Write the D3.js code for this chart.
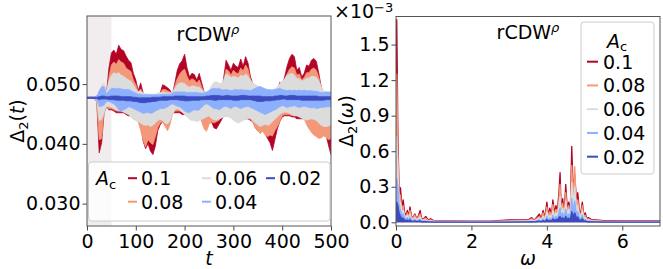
<!DOCTYPE html>
<html>
<head>
<meta charset="utf-8">
<script src="https://cdn.jsdelivr.net/npm/d3@7"></script>
<style>
  body { margin: 0; background: #fff; }
  svg { font-family: "DejaVu Sans", sans-serif; }
</style>
</head>
<body>
<svg id="chart" width="663" height="269"></svg>
<script>

// ---- data: left panel, Delta_2(t), envelopes (upper / lower) on t = 0,5,...,500 ----
var tGrid = d3.range(0, 505, 5);

var redHi = [0.0478,0.0478,0.0478,0.0478,0.0480,0.0483,0.0489,0.0492,0.0485,0.0527,
  0.0552,0.0557,0.0550,0.0565,0.0558,0.0556,0.0547,0.0540,0.0536,0.0518,
  0.0507,0.0489,0.0502,0.0485,0.0481,0.0480,0.0481,0.0481,0.0480,0.0483,
  0.0485,0.0499,0.0497,0.0494,0.0490,0.0483,0.0502,0.0523,0.0534,0.0539,
  0.0550,0.0527,0.0512,0.0518,0.0516,0.0507,0.0518,0.0502,0.0487,0.0482,
  0.0481,0.0485,0.0483,0.0482,0.0483,0.0487,0.0510,0.0540,0.0532,0.0523,
  0.0535,0.0530,0.0528,0.0542,0.0530,0.0546,0.0535,0.0512,0.0500,0.0497,
  0.0494,0.0490,0.0485,0.0483,0.0482,0.0482,0.0482,0.0483,0.0485,0.0503,
  0.0500,0.0512,0.0530,0.0543,0.0550,0.0546,0.0523,0.0528,0.0512,0.0518,
  0.0532,0.0530,0.0540,0.0543,0.0538,0.0518,0.0495,0.0485,0.0482,0.0481,
  0.0481];
var redLo = [0.0476,0.0476,0.0476,0.0476,0.0471,0.0385,0.0402,0.0452,0.0462,0.0457,
  0.0457,0.0455,0.0452,0.0452,0.0452,0.0452,0.0449,0.0447,0.0447,0.0442,
  0.0442,0.0437,0.0432,0.0405,0.0392,0.0400,0.0388,0.0382,0.0396,0.0422,
  0.0432,0.0437,0.0435,0.0432,0.0442,0.0452,0.0452,0.0452,0.0452,0.0449,
  0.0449,0.0447,0.0447,0.0445,0.0445,0.0445,0.0445,0.0442,0.0437,0.0432,
  0.0442,0.0437,0.0427,0.0425,0.0432,0.0439,0.0447,0.0447,0.0447,0.0445,
  0.0445,0.0445,0.0442,0.0442,0.0442,0.0442,0.0442,0.0439,0.0437,0.0427,
  0.0422,0.0422,0.0427,0.0417,0.0409,0.0402,0.0389,0.0407,0.0425,0.0437,
  0.0445,0.0447,0.0447,0.0447,0.0445,0.0445,0.0442,0.0442,0.0442,0.0442,
  0.0439,0.0437,0.0432,0.0427,0.0427,0.0422,0.0417,0.0422,0.0415,0.0397,
  0.0382];

var salmonHi = [0.0478,0.0478,0.0478,0.0478,0.0479,0.0482,0.0489,0.0491,0.0483,0.0512,
  0.0532,0.0537,0.0533,0.0541,0.0537,0.0535,0.0527,0.0524,0.0521,0.0507,
  0.0499,0.0487,0.0492,0.0483,0.0481,0.0480,0.0480,0.0480,0.0480,0.0482,
  0.0485,0.0491,0.0491,0.0489,0.0487,0.0483,0.0497,0.0509,0.0517,0.0522,
  0.0525,0.0513,0.0505,0.0509,0.0507,0.0502,0.0507,0.0495,0.0487,0.0483,
  0.0482,0.0487,0.0491,0.0492,0.0491,0.0491,0.0505,0.0525,0.0522,0.0515,
  0.0523,0.0519,0.0517,0.0527,0.0522,0.0532,0.0525,0.0507,0.0497,0.0493,
  0.0490,0.0487,0.0485,0.0483,0.0482,0.0482,0.0482,0.0483,0.0485,0.0497,
  0.0499,0.0507,0.0517,0.0525,0.0529,0.0527,0.0515,0.0517,0.0507,0.0511,
  0.0519,0.0519,0.0525,0.0527,0.0523,0.0511,0.0495,0.0485,0.0482,0.0481,
  0.0481];
var salmonLo = [0.0476,0.0476,0.0476,0.0476,0.0472,0.0407,0.0409,0.0457,0.0462,0.0459,
  0.0459,0.0457,0.0455,0.0455,0.0455,0.0455,0.0452,0.0450,0.0449,0.0447,
  0.0445,0.0437,0.0422,0.0407,0.0395,0.0407,0.0402,0.0399,0.0412,0.0427,
  0.0435,0.0437,0.0429,0.0422,0.0432,0.0449,0.0455,0.0455,0.0455,0.0453,
  0.0452,0.0451,0.0449,0.0449,0.0447,0.0447,0.0445,0.0437,0.0425,0.0421,
  0.0432,0.0437,0.0435,0.0437,0.0439,0.0447,0.0449,0.0449,0.0447,0.0447,
  0.0447,0.0445,0.0445,0.0445,0.0445,0.0443,0.0443,0.0441,0.0435,0.0427,
  0.0422,0.0417,0.0421,0.0415,0.0412,0.0415,0.0413,0.0422,0.0429,0.0437,
  0.0447,0.0449,0.0449,0.0449,0.0447,0.0447,0.0447,0.0445,0.0445,0.0442,
  0.0432,0.0425,0.0419,0.0415,0.0412,0.0409,0.0410,0.0413,0.0411,0.0407,
  0.0409];

var grayHi = [0.0478,0.0478,0.0478,0.0478,0.0479,0.0487,0.0499,0.0502,0.0487,0.0505,
  0.0515,0.0519,0.0517,0.0519,0.0515,0.0513,0.0510,0.0507,0.0505,0.0499,
  0.0492,0.0487,0.0489,0.0485,0.0484,0.0483,0.0483,0.0483,0.0483,0.0485,
  0.0485,0.0487,0.0486,0.0485,0.0485,0.0487,0.0493,0.0499,0.0502,0.0502,
  0.0501,0.0497,0.0495,0.0497,0.0497,0.0495,0.0495,0.0491,0.0487,0.0485,
  0.0489,0.0497,0.0503,0.0504,0.0502,0.0501,0.0507,0.0517,0.0515,0.0511,
  0.0513,0.0512,0.0510,0.0515,0.0513,0.0517,0.0513,0.0507,0.0502,0.0499,
  0.0497,0.0495,0.0493,0.0492,0.0491,0.0491,0.0491,0.0492,0.0495,0.0501,
  0.0505,0.0509,0.0515,0.0517,0.0518,0.0515,0.0509,0.0509,0.0505,0.0507,
  0.0510,0.0510,0.0513,0.0513,0.0511,0.0505,0.0495,0.0489,0.0487,0.0485,
  0.0485];
var grayLo = [0.0476,0.0476,0.0476,0.0476,0.0473,0.0439,0.0441,0.0452,0.0463,0.0463,
  0.0461,0.0459,0.0457,0.0455,0.0455,0.0453,0.0451,0.0449,0.0445,0.0441,
  0.0439,0.0437,0.0435,0.0432,0.0431,0.0432,0.0429,0.0431,0.0435,0.0439,
  0.0441,0.0439,0.0435,0.0433,0.0439,0.0449,0.0457,0.0459,0.0457,0.0453,
  0.0449,0.0445,0.0441,0.0439,0.0439,0.0437,0.0439,0.0441,0.0443,0.0445,
  0.0447,0.0443,0.0440,0.0440,0.0441,0.0443,0.0445,0.0447,0.0445,0.0443,
  0.0439,0.0437,0.0435,0.0437,0.0439,0.0441,0.0443,0.0443,0.0439,0.0435,
  0.0432,0.0429,0.0431,0.0433,0.0431,0.0433,0.0437,0.0441,0.0445,0.0449,
  0.0452,0.0453,0.0453,0.0451,0.0449,0.0447,0.0447,0.0445,0.0443,0.0441,
  0.0440,0.0441,0.0442,0.0441,0.0439,0.0435,0.0431,0.0429,0.0429,0.0430,
  0.0432];

var lblueHi = [0.0478,0.0478,0.0478,0.0478,0.0479,0.0489,0.0495,0.0496,0.0483,0.0489,
  0.0493,0.0493,0.0492,0.0493,0.0492,0.0491,0.0491,0.0491,0.0489,0.0487,
  0.0485,0.0483,0.0483,0.0482,0.0482,0.0482,0.0482,0.0482,0.0482,0.0482,
  0.0482,0.0483,0.0483,0.0483,0.0483,0.0485,0.0487,0.0487,0.0487,0.0487,
  0.0487,0.0486,0.0486,0.0486,0.0486,0.0486,0.0485,0.0485,0.0485,0.0487,
  0.0489,0.0492,0.0493,0.0492,0.0493,0.0491,0.0490,0.0491,0.0490,0.0489,
  0.0490,0.0491,0.0490,0.0491,0.0490,0.0490,0.0490,0.0489,0.0491,0.0493,
  0.0495,0.0496,0.0494,0.0492,0.0491,0.0490,0.0490,0.0491,0.0492,0.0493,
  0.0491,0.0490,0.0489,0.0490,0.0489,0.0490,0.0489,0.0490,0.0489,0.0490,
  0.0489,0.0489,0.0489,0.0488,0.0488,0.0487,0.0486,0.0486,0.0487,0.0487,
  0.0487];
var lblueLo = [0.0476,0.0476,0.0476,0.0476,0.0474,0.0462,0.0463,0.0465,0.0471,0.0471,
  0.0469,0.0467,0.0463,0.0457,0.0455,0.0457,0.0459,0.0462,0.0461,0.0459,
  0.0457,0.0455,0.0453,0.0451,0.0452,0.0453,0.0451,0.0452,0.0455,0.0457,
  0.0459,0.0459,0.0460,0.0462,0.0465,0.0467,0.0465,0.0463,0.0462,0.0459,
  0.0455,0.0453,0.0452,0.0455,0.0457,0.0456,0.0457,0.0461,0.0465,0.0467,
  0.0465,0.0462,0.0459,0.0459,0.0457,0.0459,0.0462,0.0463,0.0461,0.0459,
  0.0462,0.0463,0.0461,0.0459,0.0461,0.0462,0.0463,0.0461,0.0459,0.0457,
  0.0455,0.0453,0.0451,0.0449,0.0451,0.0453,0.0455,0.0457,0.0459,0.0462,
  0.0464,0.0463,0.0461,0.0462,0.0463,0.0464,0.0462,0.0461,0.0462,0.0463,
  0.0462,0.0461,0.0460,0.0461,0.0459,0.0460,0.0461,0.0461,0.0462,0.0462,
  0.0463];

var dblueHi = [0.0478,0.0478,0.0478,0.0478,0.0478,0.0479,0.0480,0.0480,0.0479,0.0479,
  0.0480,0.0480,0.0480,0.0480,0.0479,0.0479,0.0479,0.0479,0.0479,0.0478,
  0.0478,0.0477,0.0477,0.0477,0.0477,0.0477,0.0477,0.0478,0.0478,0.0478,
  0.0478,0.0479,0.0479,0.0479,0.0479,0.0479,0.0480,0.0480,0.0480,0.0480,
  0.0480,0.0479,0.0479,0.0479,0.0479,0.0479,0.0479,0.0479,0.0479,0.0480,
  0.0480,0.0481,0.0481,0.0481,0.0481,0.0480,0.0480,0.0481,0.0481,0.0480,
  0.0480,0.0480,0.0480,0.0481,0.0481,0.0481,0.0480,0.0480,0.0480,0.0480,
  0.0480,0.0480,0.0479,0.0479,0.0479,0.0479,0.0479,0.0480,0.0480,0.0481,
  0.0481,0.0480,0.0480,0.0481,0.0481,0.0481,0.0480,0.0480,0.0480,0.0480,
  0.0480,0.0480,0.0480,0.0480,0.0480,0.0479,0.0479,0.0479,0.0479,0.0479,
  0.0479];
var dblueLo = [0.0476,0.0476,0.0476,0.0476,0.0476,0.0474,0.0475,0.0475,0.0475,0.0474,
  0.0474,0.0474,0.0473,0.0473,0.0473,0.0473,0.0472,0.0472,0.0472,0.0471,
  0.0471,0.0470,0.0469,0.0469,0.0469,0.0470,0.0470,0.0471,0.0471,0.0472,
  0.0473,0.0473,0.0473,0.0473,0.0474,0.0474,0.0474,0.0474,0.0473,0.0473,
  0.0472,0.0472,0.0472,0.0473,0.0473,0.0473,0.0473,0.0474,0.0474,0.0474,
  0.0474,0.0474,0.0473,0.0473,0.0474,0.0474,0.0474,0.0474,0.0474,0.0474,
  0.0473,0.0473,0.0473,0.0474,0.0474,0.0474,0.0474,0.0474,0.0473,0.0472,
  0.0471,0.0471,0.0471,0.0472,0.0472,0.0472,0.0473,0.0473,0.0474,0.0474,
  0.0475,0.0475,0.0474,0.0474,0.0474,0.0474,0.0474,0.0474,0.0473,0.0473,
  0.0473,0.0473,0.0473,0.0473,0.0473,0.0473,0.0473,0.0473,0.0474,0.0474,
  0.0474];

// ---- data: right panel, Delta_2(omega) in units of 1e-3 ----
var omega = [0,0.02,0.05,0.08,0.12,0.16,0.19,0.23,0.27,0.30,
  0.34,0.37,0.41,0.45,0.50,0.55,0.60,0.64,0.68,0.73,
  0.79,0.85,0.92,1.0,1.2,1.5,2.0,2.5,3.0,3.3,
  3.5,3.6,3.65,3.7,3.8,3.85,3.9,3.95,4.0,4.04,
  4.08,4.12,4.16,4.2,4.24,4.28,4.32,4.35,4.38,4.42,
  4.46,4.5,4.54,4.58,4.62,4.66,4.7,4.74,4.78,4.82,
  4.86,4.9,4.94,4.98,5.02,5.06,5.1,5.2,5.3,5.5,
  6.0,6.5,7.0];

var specRed = [0.9,1.71,0.75,0.30,0.29,0.12,0.19,0.08,0.06,0.10,
  0.05,0.13,0.05,0.04,0.07,0.03,0.06,0.10,0.03,0.03,
  0.05,0.02,0.03,0.015,0.015,0.012,0.01,0.01,0.02,0.02,
  0.02,0.04,0.02,0.03,0.07,0.03,0.10,0.04,0.17,0.06,
  0.12,0.05,0.19,0.08,0.14,0.10,0.25,0.42,0.12,0.20,
  0.08,0.32,0.12,0.17,0.08,0.64,0.25,0.40,0.20,0.25,
  0.10,0.08,0.17,0.06,0.08,0.03,0.04,0.02,0.02,0.015,
  0.012,0.012,0.012];
var specSalmon = [0.7,1.25,0.6,0.25,0.22,0.10,0.14,0.06,0.05,0.08,
  0.04,0.10,0.04,0.035,0.06,0.025,0.05,0.07,0.025,0.025,
  0.035,0.015,0.02,0.012,0.01,0.01,0.008,0.008,0.012,0.015,
  0.015,0.03,0.015,0.025,0.05,0.025,0.08,0.03,0.13,0.05,
  0.09,0.04,0.15,0.06,0.11,0.08,0.19,0.32,0.09,0.16,
  0.06,0.25,0.09,0.14,0.06,0.48,0.20,0.47,0.16,0.19,
  0.08,0.06,0.14,0.05,0.06,0.025,0.03,0.015,0.015,0.01,
  0.008,0.008,0.008];
var specGray = [0.5,0.72,0.45,0.2,0.16,0.08,0.10,0.05,0.04,0.06,
  0.03,0.07,0.03,0.025,0.04,0.02,0.035,0.045,0.018,0.018,
  0.02,0.01,0.012,0.008,0.007,0.006,0.005,0.005,0.008,0.01,
  0.01,0.02,0.01,0.017,0.035,0.018,0.05,0.02,0.09,0.035,
  0.06,0.03,0.10,0.045,0.08,0.06,0.14,0.22,0.07,0.12,
  0.05,0.18,0.07,0.11,0.05,0.34,0.15,0.30,0.12,0.14,
  0.06,0.045,0.10,0.035,0.04,0.018,0.02,0.01,0.01,0.006,
  0.005,0.005,0.005];
var specLblue = [0.3,0.37,0.30,0.15,0.10,0.06,0.07,0.035,0.03,0.04,
  0.02,0.045,0.02,0.015,0.025,0.012,0.02,0.025,0.01,0.01,
  0.012,0.006,0.006,0.004,0.004,0.003,0.003,0.003,0.004,0.005,
  0.006,0.01,0.006,0.01,0.02,0.01,0.03,0.012,0.05,0.02,
  0.035,0.018,0.06,0.03,0.05,0.04,0.08,0.12,0.05,0.08,
  0.035,0.11,0.05,0.07,0.04,0.20,0.10,0.18,0.08,0.09,
  0.04,0.03,0.06,0.02,0.025,0.01,0.012,0.006,0.006,0.004,
  0.003,0.003,0.003];
var specDblue = [0.12,0.17,0.14,0.08,0.05,0.03,0.035,0.018,0.015,0.02,
  0.01,0.022,0.01,0.008,0.012,0.006,0.01,0.012,0.005,0.005,
  0.006,0.003,0.003,0.002,0.002,0.002,0.002,0.002,0.002,0.003,
  0.003,0.005,0.003,0.005,0.01,0.005,0.015,0.006,0.025,0.01,
  0.018,0.009,0.03,0.015,0.025,0.02,0.04,0.05,0.025,0.04,
  0.018,0.05,0.025,0.035,0.02,0.09,0.05,0.08,0.04,0.045,
  0.02,0.015,0.03,0.01,0.012,0.005,0.006,0.003,0.003,0.002,
  0.002,0.002,0.002];

var amps = ["0.1", "0.08", "0.06", "0.04", "0.02"];
var colors = ["#b40426", "#f4987a", "#dddcdc", "#8db0fe", "#3b4cc0"];
var timeHi = [redHi, salmonHi, grayHi, lblueHi, dblueHi];
var timeLo = [redLo, salmonLo, grayLo, lblueLo, dblueLo];
var spectra = [specRed, specSalmon, specGray, specLblue, specDblue];

var fs = 19;
var fsSmall = 13;
var svg = d3.select("#chart");

function styleAxis(g) {
  g.select(".domain").remove();
  g.selectAll(".tick line").attr("stroke", "#333").attr("stroke-width", 0.9);
  g.selectAll(".tick text")
    .attr("font-size", fs)
    .attr("font-family", "DejaVu Sans")
    .attr("fill", "#000");
}

// ================= left panel =================
var L = {x0: 87, x1: 331, y0: 16, y1: 226};
var xT = d3.scaleLinear().domain([0, 500]).range([L.x0, L.x1]);
var yT = d3.scaleLinear().domain([0.02625, 0.0614]).range([L.y1, L.y0]);

svg.append("clipPath").attr("id", "clipL")
  .append("rect").attr("x", L.x0).attr("y", L.y0)
  .attr("width", L.x1 - L.x0).attr("height", L.y1 - L.y0);

var left = svg.append("g").attr("clip-path", "url(#clipL)");

// pulse window
left.append("rect")
  .attr("x", xT(0)).attr("y", L.y0)
  .attr("width", xT(50) - xT(0)).attr("height", L.y1 - L.y0)
  .attr("fill", "#f1edef");

amps.forEach(function(a, k) {
  var area = d3.area()
    .x(function(d, i) { return xT(tGrid[i]); })
    .y0(function(d, i) { return yT(timeLo[k][i]); })
    .y1(function(d, i) { return yT(timeHi[k][i]); });
  left.append("path")
    .datum(tGrid)
    .attr("d", area)
    .attr("fill", colors[k])
    .attr("stroke", colors[k])
    .attr("stroke-width", 0.8)
    .attr("stroke-linejoin", "round");
});

svg.append("g")
  .attr("transform", "translate(0," + L.y1 + ")")
  .call(d3.axisBottom(xT).tickValues([0, 100, 200, 300, 400, 500]).tickFormat(d3.format("d")).tickSize(4.5).tickPadding(4.5))
  .call(styleAxis);

svg.append("g")
  .attr("transform", "translate(" + L.x0 + ",0)")
  .call(d3.axisLeft(yT).tickValues([0.030, 0.040, 0.050]).tickFormat(d3.format(".3f")).tickSize(4.5).tickPadding(2))
  .call(styleAxis);

svg.append("rect")
  .attr("x", L.x0).attr("y", L.y0)
  .attr("width", L.x1 - L.x0).attr("height", L.y1 - L.y0)
  .attr("fill", "none").attr("stroke", "#555").attr("stroke-width", 1);

// ================= right panel =================
var R = {x0: 396, x1: 660, y0: 16.5, y1: 226};
var xW = d3.scaleLinear().domain([0, 7]).range([R.x0, R.x1]);
var yW = d3.scaleLinear().domain([-0.031, 1.737]).range([R.y1, R.y0]);

svg.append("clipPath").attr("id", "clipR")
  .append("rect").attr("x", R.x0).attr("y", R.y0)
  .attr("width", R.x1 - R.x0).attr("height", R.y1 - R.y0);

var right = svg.append("g").attr("clip-path", "url(#clipR)");

amps.forEach(function(a, k) {
  var area = d3.area()
    .x(function(d, i) { return xW(omega[i]); })
    .y0(yW(0))
    .y1(function(d) { return yW(d); });
  var line = d3.line()
    .x(function(d, i) { return xW(omega[i]); })
    .y(function(d) { return yW(d); });
  right.append("path").datum(spectra[k])
    .attr("d", area)
    .attr("fill", colors[k]);
  right.append("path").datum(spectra[k])
    .attr("d", line)
    .attr("fill", "none")
    .attr("stroke", colors[k])
    .attr("stroke-width", 1.3)
    .attr("stroke-linejoin", "round");
});

svg.append("g")
  .attr("transform", "translate(0," + R.y1 + ")")
  .call(d3.axisBottom(xW).tickValues([0, 2, 4, 6]).tickFormat(d3.format("d")).tickSize(4.5).tickPadding(4.5))
  .call(styleAxis);

svg.append("g")
  .attr("transform", "translate(" + R.x0 + ",0)")
  .call(d3.axisLeft(yW).tickValues([0, 0.3, 0.6, 0.9, 1.2, 1.5]).tickFormat(d3.format(".1f")).tickSize(4.5).tickPadding(2))
  .call(styleAxis);

svg.append("rect")
  .attr("x", R.x0).attr("y", R.y0)
  .attr("width", R.x1 - R.x0).attr("height", R.y1 - R.y0)
  .attr("fill", "none").attr("stroke", "#555").attr("stroke-width", 1);

// offset text x10^-3
var off = svg.append("text").attr("x", 334).attr("y", 17.5).attr("font-size", fs);
off.append("tspan").text("\u00d710");
off.append("tspan").attr("font-size", fsSmall).attr("dy", -5.5).text("\u22123");

// ================= titles and labels =================
function title(x, y) {
  var t = svg.append("text").attr("x", x).attr("y", y)
    .attr("text-anchor", "middle").attr("font-size", fs);
  t.append("tspan").text("rCDW");
  t.append("tspan").attr("font-size", fsSmall).attr("font-style", "italic").attr("dy", -7).text("\u03c1");
}
title(208, 40.5);
title(528, 39);

function deltaLabel(x, y, arg) {
  var t = svg.append("text")
    .attr("transform", "translate(" + x + "," + y + ") rotate(-90)")
    .attr("text-anchor", "middle").attr("font-size", fs);
  t.append("tspan").text("\u0394");
  t.append("tspan").attr("font-size", fsSmall).attr("dy", 4).text("2");
  t.append("tspan").attr("dy", -4).text("(");
  t.append("tspan").attr("font-style", "italic").text(arg);
  t.append("tspan").text(")");
}
deltaLabel(24, 121, "t");
deltaLabel(353, 121, "\u03c9");

svg.append("text").attr("x", (L.x0 + L.x1) / 2).attr("y", 265)
  .attr("text-anchor", "middle").attr("font-size", fs).attr("font-style", "italic").text("t");
svg.append("text").attr("x", (R.x0 + R.x1) / 2).attr("y", 265)
  .attr("text-anchor", "middle").attr("font-size", fs).attr("font-style", "italic").text("\u03c9");

// ================= legends =================
function acLabel(g, x, y, anchor) {
  var t = g.append("text").attr("x", x).attr("y", y).attr("font-size", fs)
    .attr("text-anchor", anchor || "start");
  t.append("tspan").attr("font-style", "italic").text("A");
  t.append("tspan").attr("font-size", fsSmall).attr("dy", 3.5).text("c");
}

var legL = svg.append("g");
legL.append("rect").attr("x", 88.5).attr("y", 162).attr("width", 241.5).attr("height", 59)
  .attr("rx", 3).attr("fill", "#fff").attr("fill-opacity", 0.8)
  .attr("stroke", "#ccc").attr("stroke-width", 1);
acLabel(legL, 96, 185);
var legPos = [[128, 185], [128, 208.5], [202, 185], [202, 208.5], [266, 185]];
amps.forEach(function(a, k) {
  var p = legPos[k];
  legL.append("line").attr("x1", p[0]).attr("x2", p[0] + 9)
    .attr("y1", p[1] - 6.8).attr("y2", p[1] - 6.8)
    .attr("stroke", colors[k]).attr("stroke-width", 2);
  legL.append("text").attr("x", p[0] + 13).attr("y", p[1]).attr("font-size", fs).text(a);
});

var legR = svg.append("g");
legR.append("rect").attr("x", 581).attr("y", 22).attr("width", 73).attr("height", 152)
  .attr("rx", 3).attr("fill", "#fff").attr("fill-opacity", 0.8)
  .attr("stroke", "#ccc").attr("stroke-width", 1);
acLabel(legR, 617, 47.5, "middle");
amps.forEach(function(a, k) {
  var y = 68.5 + k * 23.75;
  legR.append("line").attr("x1", 587).attr("x2", 598)
    .attr("y1", y - 6.8).attr("y2", y - 6.8)
    .attr("stroke", colors[k]).attr("stroke-width", 2);
  legR.append("text").attr("x", 603).attr("y", y).attr("font-size", fs).text(a);
});

</script>
</body>
</html>
